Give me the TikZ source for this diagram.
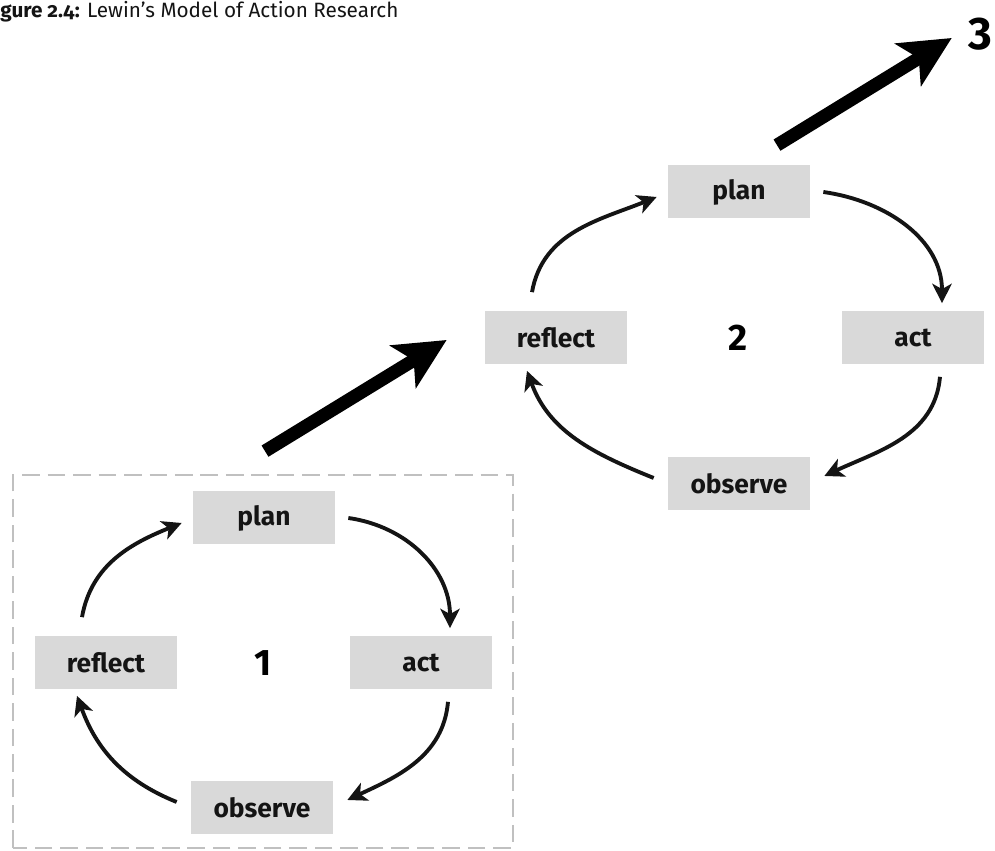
\documentclass[tikz,border=0pt]{standalone}
\usepackage{fontspec}
\setmainfont{Fira Sans}
\usepackage{xcolor}
\usetikzlibrary{
	positioning,
	calc,
	arrows.meta
}
\definecolor{boxgray}{RGB}{217,217,217}
\definecolor{dashgray}{RGB}{192,192,192}
\definecolor{inkblack}{RGB}{20,20,20}

\begin{document}
\begin{tikzpicture}[
		x=0.02cm, y=0.02cm,
		stage/.style={fill=boxgray, text=inkblack, minimum width=2.84cm, minimum height=1.06cm, inner sep=0pt, font=\fontsize{15}{18}\selectfont\bfseries},
		cyc/.style={draw=inkblack, line width=2.2pt, -{Stealth[length=11pt,width=11pt,inset=3pt]}},
		jump/.style={draw=black, line width=7.5pt, -{Stealth[length=29pt,width=28pt,inset=7pt]}},
		num/.style={inner sep=0pt, font=\fontsize{21}{24}\selectfont\bfseries}
	]
		\useasboundingbox (0,0) rectangle (995,851);

		\node[anchor=base west, inner sep=0pt, text=inkblack, font=\fontsize{11.8}{14}\selectfont\addfontfeatures{Numbers=OldStyle}] (title) at (0,833)
			{\textbf{gure 2.4:} Lewin’s Model of Action Research};

		% first cycle
		\draw[dashgray, line width=1.1pt, dash pattern=on 10pt off 4.5pt] (13,3) rectangle (513,376);
		\draw
			node[stage] (plan1)    at (264,333) {plan}
			node[stage] (act1)     at (421,188) {act}
			node[stage] (observe1) at (262,43)  {observe}
			node[stage] (reflect1) at (106,188) {reflect}
			node[num]   (one)      at (263,188) {1}

			($(plan1.east)+(13,0)$)     edge[cyc, out=-8, in=90]   ($(act1.north)+(29,8)$)
			($(act1.south)+(27,-12)$)   edge[cyc, out=-95, in=25]  ($(observe1.east)+(14,8)$)
			($(observe1.west)+(-14,6)$) edge[cyc, out=158, in=-70] ($(reflect1.south)+(-29,-6)$)
			($(reflect1.north)+(-24,19)$) edge[cyc, out=80, in=202] ($(plan1.west)+(-11,-5)$)
		;

		% second cycle
		\draw
			node[stage] (plan2)    at (739,659) {plan}
			node[stage] (act2)     at (913,513) {act}
			node[stage] (observe2) at (739,367) {observe}
			node[stage] (reflect2) at (556,513) {reflect}
			node[num]   (two)      at (738,513) {2}

			($(plan2.east)+(13,0)$)     edge[cyc, out=-8, in=90]   ($(act2.north)+(29,8)$)
			($(act2.south)+(27,-12)$)   edge[cyc, out=-95, in=25]  ($(observe2.east)+(14,8)$)
			($(observe2.west)+(-14,6)$) edge[cyc, out=158, in=-70] ($(reflect2.south)+(-29,-6)$)
			($(reflect2.north)+(-24,19)$) edge[cyc, out=80, in=202] ($(plan2.west)+(-11,-5)$)
		;

		\node[num, font=\fontsize{26}{30}\selectfont\bfseries] (three) at (980,817) {3};

		% steps between cycles
		\draw[jump] ($(plan1.north)+(1,40)$) -- ($(reflect2.west)+(-38,-2)$);
		\draw[jump] ($(plan2.north)+(38,20)$) -- ($(three.west)+(-16,-4)$);
\end{tikzpicture}
\end{document}
